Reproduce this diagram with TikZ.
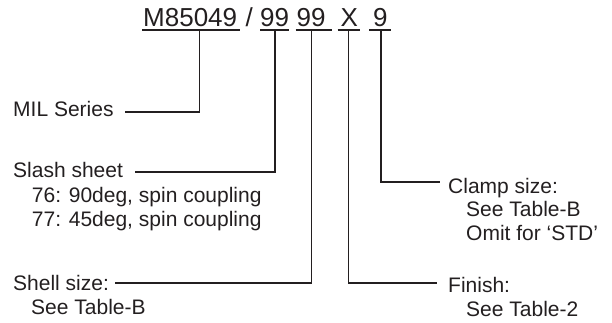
\documentclass[tikz,border=0pt]{standalone}
\usepackage{fontspec}
\setmainfont{Liberation Sans}
\definecolor{ink}{HTML}{231F20}
\begin{document}
\begin{tikzpicture}[x=1pt,y=-1pt,
  toptxt/.style={inner sep=0pt,anchor=base west,text=ink,font=\fontsize{26}{30}\selectfont},
  lbl/.style={inner sep=0pt,anchor=base west,text=ink,font=\fontsize{21}{25}\selectfont},
  uline/.style={draw=ink,line width=2pt},
  lead/.style={draw=ink,line width=1.1pt}]
\useasboundingbox (0,0) rectangle (612,323);
% top code
\node[toptxt] (m)  at (143,27) {M85049};
\node[toptxt] (sl) at (245.5,27) {/};
\node[toptxt] (a)  at (260,27) {99};
\node[toptxt] (b)  at (296.5,27) {99};
\node[toptxt] (x)  at (340.5,27) {X};
\node[toptxt] (n)  at (373,27) {9};
\draw[uline] (142,30) -- (240,30);
\draw[uline] (260,30) -- (289,30);
\draw[uline] (295.7,30) -- (332,30);
\draw[uline] (337.7,30) -- (360,30);
\draw[uline] (369,30) -- (391,30);
% labels
\node[lbl] (mil) at (13,117) {MIL Series};
\node[lbl] (sla) at (13,177) {Slash sheet};
\node[lbl] (s76) at (31.7,202) {76: 90deg, spin coupling};
\node[lbl] (s77) at (31.7,226) {77: 45deg, spin coupling};
\node[lbl] (she) at (13,290) {Shell size:};
\node[lbl] (shb) at (31,314) {See Table-B};
\node[lbl] (cla) at (448,193) {Clamp size:};
\node[lbl] (clb) at (466,216.5) {See Table-B};
\node[lbl] (clc) at (466,240) {Omit for ‘STD’};
\node[lbl] (fin) at (448,292) {Finish:};
\node[lbl] (fib) at (466,316) {See Table-2};
% connector points
\coordinate (tm) at (199.5,31);
\coordinate (ta) at (275,31);
\coordinate (tb) at (311.7,31);
\coordinate (tx) at (348.3,31);
\coordinate (tn) at (381,31);
\coordinate (em) at (125,112);
\coordinate (ea) at (135,172);
\coordinate (eb) at (115,283);
\coordinate (ex) at (437,283);
\coordinate (en) at (440,182);
\draw[lead] (tm) |- (em);
\draw[lead] (ta) |- (ea);
\draw[lead] (tb) |- (eb);
\draw[lead] (tx) |- (ex);
\draw[lead] (tn) |- (en);
\end{tikzpicture}
\end{document}
